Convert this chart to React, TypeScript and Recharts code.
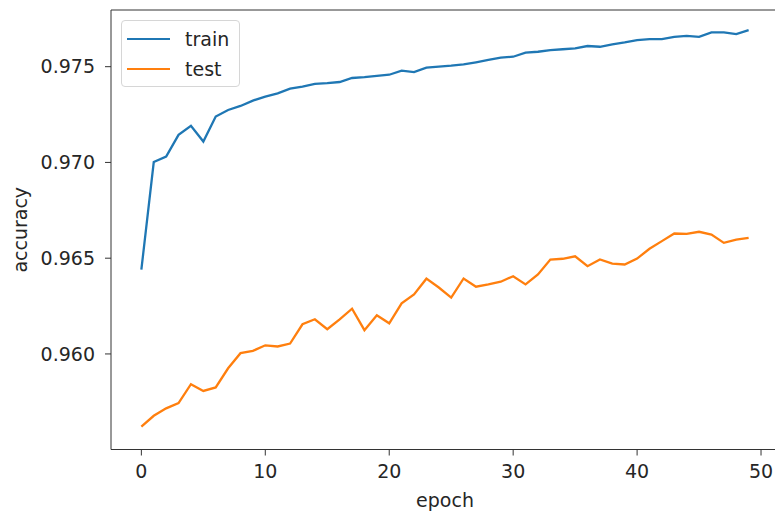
import { LineChart, Line, XAxis, YAxis, Legend, Label, ReferenceLine } from 'recharts'

const epochs = [
  0, 1, 2, 3, 4, 5, 6, 7, 8, 9, 10, 11, 12, 13, 14, 15, 16, 17, 18, 19, 20, 21, 22, 23, 24,
  25, 26, 27, 28, 29, 30, 31, 32, 33, 34, 35, 36, 37, 38, 39, 40, 41, 42, 43, 44, 45, 46, 47, 48, 49,
]

const trainAcc = [
  0.9644, 0.97002, 0.97031, 0.97144, 0.97191, 0.97109, 0.9724, 0.97274, 0.97295, 0.97323,
  0.97344, 0.97361, 0.97385, 0.97396, 0.9741, 0.97414, 0.9742, 0.97441, 0.97445, 0.97452,
  0.97458, 0.97479, 0.97472, 0.97495, 0.975, 0.97505, 0.97512, 0.97523, 0.97535, 0.97547,
  0.97552, 0.97573, 0.97578, 0.97587, 0.97591, 0.97596, 0.97608, 0.97604, 0.97617, 0.97627,
  0.97639, 0.97644, 0.97644, 0.97656, 0.97661, 0.97656, 0.97679, 0.97679, 0.9767, 0.97691,
]

const testAcc = [
  0.9562, 0.95677, 0.95716, 0.95743, 0.95842, 0.95807, 0.95825, 0.95925, 0.96004, 0.96016,
  0.96045, 0.96039, 0.96054, 0.96155, 0.96181, 0.96129, 0.96181, 0.96236, 0.96124, 0.96202,
  0.9616, 0.96264, 0.96311, 0.96393, 0.96347, 0.96294, 0.96394, 0.96351, 0.96363, 0.96377,
  0.96406, 0.96363, 0.96415, 0.96493, 0.96497, 0.9651, 0.96458, 0.96493, 0.96472, 0.96467,
  0.96498, 0.96549, 0.96589, 0.96629, 0.96627, 0.96638, 0.96623, 0.9658, 0.96597, 0.96606,
]

const xTicks = [0, 10, 20, 30, 40, 50]
const yTicks = [0.96, 0.965, 0.97, 0.975]

const seriesNames = ['train', 'test']
const seriesColors = ['#1f77b4', '#ff7f0e']

const X_DOMAIN = [-2.45, 51.45]
const Y_DOMAIN = [0.95501, 0.97796]

const data = epochs.map((e, i) => ({ epoch: e, train: trainAcc[i], test: testAcc[i] }))

const FONT = '"DejaVu Sans", sans-serif'
const TEXT = '#262626'
const SPINE = '#333333'

// matplotlib-style framed legend, keeps series order
const renderLegend = () => (
  <div
    style={{
      width: 119,
      height: 67,
      boxSizing: 'border-box',
      border: '1px solid #d6d6d6',
      borderRadius: 4,
      background: 'rgba(255,255,255,0.8)',
      paddingTop: 3,
      fontFamily: FONT,
      fontSize: 19,
      color: TEXT,
    }}
  >
    {seriesNames.map((name, i) => (
      <div key={name} style={{ height: 30, display: 'flex', alignItems: 'center' }}>
        <div style={{ marginLeft: 5, width: 43, height: 2.4, background: seriesColors[i] }} />
        <span style={{ marginLeft: 15, lineHeight: '30px' }}>{name}</span>
      </div>
    ))}
  </div>
)

const renderYLabel = (props: any) => {
  const vb = props.viewBox || { x: 0, y: 0, width: 0, height: 0 }
  const cx = vb.x + 20
  const cy = vb.y + vb.height / 2
  return (
    <text
      x={cx}
      y={cy}
      transform={`rotate(-90, ${cx}, ${cy})`}
      textAnchor="middle"
      dominantBaseline="central"
      fontFamily={FONT}
      fontSize={19}
      fill={TEXT}
    >
      accuracy
    </text>
  )
}

export default function App() {
  return (
    <div style={{ position: 'fixed', left: 0, top: 0, width: 775, height: 516, overflow: 'hidden', background: '#fff' }}>
      <LineChart width={781} height={516} data={data} margin={{ top: 10, right: 2, left: 0, bottom: 6.5 }}>
        <XAxis
          dataKey="epoch"
          type="number"
          domain={X_DOMAIN}
          ticks={xTicks}
          allowDataOverflow
          height={60}
          tickSize={6}
          tickMargin={9}
          stroke={SPINE}
          tick={{ fill: TEXT, fontSize: 19, fontFamily: FONT }}
          tickLine={{ stroke: SPINE }}
        >
          <Label value="epoch" position="insideBottom" offset={3} fill={TEXT} fontSize={19} fontFamily={FONT} />
        </XAxis>
        <YAxis
          type="number"
          domain={Y_DOMAIN}
          ticks={yTicks}
          allowDataOverflow
          width={111}
          tickSize={6}
          tickMargin={10}
          stroke={SPINE}
          tick={{ fill: TEXT, fontSize: 19, fontFamily: FONT }}
          tickLine={{ stroke: SPINE }}
          tickFormatter={(v: number) => v.toFixed(3)}
        >
          <Label content={renderYLabel} />
        </YAxis>
        {/* top spine */}
        <ReferenceLine y={Y_DOMAIN[1]} stroke={SPINE} strokeWidth={1} ifOverflow="extendDomain" />
        <Legend
          layout="vertical"
          align="center"
          verticalAlign="middle"
          content={renderLegend}
          wrapperStyle={{ left: 121, top: 20, width: 119, height: 67 }}
        />
        {seriesNames.map((name, i) => (
          <Line
            key={name}
            type="linear"
            dataKey={name}
            name={name}
            stroke={seriesColors[i]}
            strokeWidth={2.3}
            dot={false}
            activeDot={false}
            isAnimationActive={false}
          />
        ))}
      </LineChart>
    </div>
  )
}
